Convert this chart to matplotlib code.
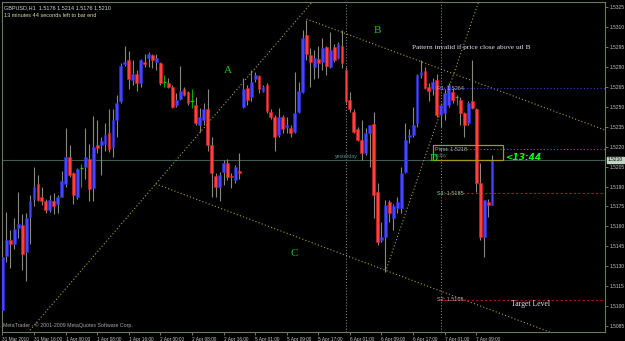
import matplotlib
matplotlib.use('Agg')
from matplotlib import pyplot as plt
from matplotlib.patches import Rectangle
from matplotlib.transforms import blended_transform_factory
import numpy as np

# GBPUSD H1 bars
opens = [1.5097, 1.5138, 1.5150, 1.5147, 1.5159, 1.5161, 1.5141, 1.5167, 1.5181, 1.5192,
         1.5182, 1.5179, 1.5172, 1.5179, 1.5177, 1.5182, 1.5192, 1.5212, 1.5200, 1.5182,
         1.5204, 1.5205, 1.5211, 1.5189, 1.5221, 1.5221, 1.5222, 1.5230, 1.5220, 1.5240,
         1.5254, 1.5282, 1.5285, 1.5270, 1.5275, 1.5268, 1.5284, 1.5287, 1.5289, 1.5284,
         1.5283, 1.5269, 1.5268, 1.5265, 1.5251, 1.5256, 1.5263, 1.5261, 1.5254, 1.5251,
         1.5236, 1.5240, 1.5248, 1.5221, 1.5198, 1.5190, 1.5201, 1.5208, 1.5198, 1.5195,
         1.5202, 1.5250, 1.5264, 1.5257, 1.5271, 1.5273, 1.5262, 1.5266, 1.5246, 1.5242,
         1.5229, 1.5242, 1.5235, 1.5234, 1.5231, 1.5246, 1.5261, 1.5304, 1.5289, 1.5280,
         1.5286, 1.5284, 1.5295, 1.5280, 1.5295, 1.5287, 1.5296, 1.5278, 1.5255, 1.5246,
         1.5233, 1.5225, 1.5215, 1.5230, 1.5237, 1.5186, 1.5150, 1.5152, 1.5178, 1.5166,
         1.5174, 1.5174, 1.5201, 1.5227, 1.5229, 1.5238, 1.5274, 1.5277, 1.5265, 1.5263,
         1.5270, 1.5244, 1.5245, 1.5251, 1.5261, 1.5257, 1.5255, 1.5245, 1.5238, 1.5254,
         1.5248, 1.5193, 1.5152, 1.5178, 1.5176]
highs = [1.5150, 1.5171, 1.5157, 1.5166, 1.5186, 1.5169, 1.5170, 1.5184, 1.5205, 1.5199,
         1.5190, 1.5181, 1.5184, 1.5185, 1.5184, 1.5202, 1.5234, 1.5221, 1.5201, 1.5204,
         1.5207, 1.5234, 1.5222, 1.5243, 1.5240, 1.5227, 1.5238, 1.5248, 1.5248, 1.5259,
         1.5283, 1.5296, 1.5292, 1.5285, 1.5278, 1.5286, 1.5290, 1.5291, 1.5290, 1.5290,
         1.5284, 1.5274, 1.5272, 1.5266, 1.5260, 1.5281, 1.5265, 1.5262, 1.5263, 1.5257,
         1.5249, 1.5253, 1.5263, 1.5227, 1.5200, 1.5201, 1.5210, 1.5211, 1.5200, 1.5206,
         1.5215, 1.5272, 1.5266, 1.5278, 1.5276, 1.5274, 1.5266, 1.5268, 1.5248, 1.5244,
         1.5249, 1.5244, 1.5242, 1.5236, 1.5276, 1.5269, 1.5308, 1.5315, 1.5294, 1.5293,
         1.5296, 1.5302, 1.5296, 1.5306, 1.5297, 1.5299, 1.5308, 1.5280, 1.5261, 1.5248,
         1.5235, 1.5240, 1.5234, 1.5236, 1.5246, 1.5193, 1.5163, 1.5180, 1.5180, 1.5177,
         1.5182, 1.5205, 1.5238, 1.5233, 1.5250, 1.5275, 1.5285, 1.5280, 1.5268, 1.5272,
         1.5275, 1.5253, 1.5263, 1.5268, 1.5264, 1.5259, 1.5257, 1.5246, 1.5254, 1.5285,
         1.5249, 1.5208, 1.5180, 1.5181, 1.5214]
lows = [1.5096, 1.5133, 1.5129, 1.5143, 1.5151, 1.5127, 1.5119, 1.5147, 1.5175, 1.5179,
        1.5176, 1.5170, 1.5171, 1.5169, 1.5170, 1.5182, 1.5190, 1.5197, 1.5177, 1.5181,
        1.5190, 1.5196, 1.5179, 1.5179, 1.5215, 1.5199, 1.5217, 1.5216, 1.5212, 1.5227,
        1.5253, 1.5281, 1.5263, 1.5266, 1.5262, 1.5265, 1.5280, 1.5280, 1.5279, 1.5278,
        1.5266, 1.5265, 1.5264, 1.5249, 1.5250, 1.5255, 1.5258, 1.5251, 1.5249, 1.5236,
        1.5231, 1.5236, 1.5217, 1.5182, 1.5182, 1.5179, 1.5191, 1.5195, 1.5189, 1.5193,
        1.5196, 1.5249, 1.5251, 1.5254, 1.5269, 1.5260, 1.5261, 1.5245, 1.5241, 1.5217,
        1.5227, 1.5230, 1.5230, 1.5227, 1.5230, 1.5245, 1.5260, 1.5285, 1.5265, 1.5271,
        1.5272, 1.5278, 1.5274, 1.5279, 1.5284, 1.5286, 1.5279, 1.5253, 1.5246, 1.5230,
        1.5224, 1.5210, 1.5214, 1.5205, 1.5166, 1.5146, 1.5148, 1.5126, 1.5163, 1.5157,
        1.5170, 1.5170, 1.5200, 1.5223, 1.5227, 1.5235, 1.5272, 1.5263, 1.5254, 1.5259,
        1.5242, 1.5235, 1.5240, 1.5250, 1.5253, 1.5251, 1.5236, 1.5227, 1.5236, 1.5248,
        1.5186, 1.5150, 1.5137, 1.5167, 1.5176]
closes = [1.5137, 1.5150, 1.5147, 1.5158, 1.5162, 1.5139, 1.5166, 1.5179, 1.5190, 1.5180,
          1.5179, 1.5172, 1.5180, 1.5175, 1.5182, 1.5194, 1.5212, 1.5199, 1.5184, 1.5203,
          1.5204, 1.5212, 1.5188, 1.5220, 1.5219, 1.5224, 1.5229, 1.5218, 1.5240, 1.5253,
          1.5281, 1.5284, 1.5271, 1.5275, 1.5268, 1.5285, 1.5282, 1.5290, 1.5285, 1.5287,
          1.5268, 1.5269, 1.5265, 1.5250, 1.5255, 1.5262, 1.5259, 1.5253, 1.5254, 1.5238,
          1.5242, 1.5248, 1.5221, 1.5200, 1.5190, 1.5199, 1.5208, 1.5197, 1.5197, 1.5205,
          1.5200, 1.5263, 1.5255, 1.5269, 1.5274, 1.5263, 1.5265, 1.5247, 1.5242, 1.5227,
          1.5242, 1.5233, 1.5236, 1.5230, 1.5245, 1.5262, 1.5302, 1.5290, 1.5284, 1.5287,
          1.5283, 1.5294, 1.5281, 1.5293, 1.5285, 1.5297, 1.5283, 1.5254, 1.5248, 1.5231,
          1.5225, 1.5215, 1.5230, 1.5236, 1.5184, 1.5148, 1.5152, 1.5176, 1.5170, 1.5175,
          1.5178, 1.5200, 1.5225, 1.5229, 1.5236, 1.5274, 1.5276, 1.5264, 1.5262, 1.5269,
          1.5244, 1.5251, 1.5260, 1.5266, 1.5255, 1.5257, 1.5245, 1.5236, 1.5253, 1.5249,
          1.5193, 1.5152, 1.5180, 1.5176, 1.5210]

time_labels = ['31 Mar 2010', '31 Mar 16:00', '1 Apr 00:00', '1 Apr 08:00', '1 Apr 16:00',
               '2 Apr 00:00', '2 Apr 08:00', '2 Apr 16:00', '5 Apr 01:00', '5 Apr 09:00',
               '5 Apr 17:00', '6 Apr 01:00', '6 Apr 09:00', '6 Apr 17:00', '7 Apr 01:00',
               '7 Apr 09:00']
label_step = 8
day_separators = [87, 111]

# pivot levels for today
pivot_names = ['R1', 'Pivot', 'S1', 'S2']
pivot_values = [1.5264, 1.5218, 1.5185, 1.5105]
pivot_colors = ['#3838d8', '#b030b0', '#c01010', '#c01010']
today_start = 111

# trend lines: (bar, price) anchors
line_a = [(7.0, 1.5082), (78.5, 1.5329)]
line_b = [(77.0, 1.5316), (153.0, 1.5232)]
line_c = [(38.8, 1.5192), (140.0, 1.5079)]
line_d = [(97.0, 1.5126), (120.6, 1.5329)]

bid = 1.5210

small = ['Liberation Sans', 'DejaVu Sans']

fig = plt.figure(figsize=(6.25, 3.41), dpi=100, facecolor='black')
ax = fig.add_axes([2 / 625, 9 / 341, 603 / 625, 330 / 341], facecolor='black')
frame = '#6b7b5b'

x = np.arange(len(opens))
o = np.array(opens); h = np.array(highs); l = np.array(lows); c = np.array(closes)
bull = c > o
bear = c < o
doji = c == o

# wicks
ax.vlines(x[~doji], l[~doji], h[~doji], color='#8a8a7a', lw=0.8, zorder=3)
ax.vlines(x[doji], l[doji], h[doji], color='#00b000', lw=0.8, zorder=3)
# bodies
ax.bar(x[bull], (c - o)[bull], bottom=o[bull], width=0.72, color='#4646ff',
       edgecolor='#2a2ae0', lw=0.4, zorder=4)
ax.bar(x[bear], (o - c)[bear], bottom=c[bear], width=0.72, color='#ff4040',
       edgecolor='#e02020', lw=0.4, zorder=4)
ax.hlines(o[doji], x[doji] - 0.45, x[doji] + 0.45, color='#00d000', lw=0.9, zorder=4)

# bid line
ax.axhline(bid, color='#3f5a56', lw=0.8, zorder=2)

# day separators
for s in day_separators:
    ax.axvline(s, color='#9a9a9a', lw=0.7, ls=(0, (1, 2)), zorder=1)

# trend lines
for ln in [line_a, line_b, line_c, line_d]:
    ax.plot([ln[0][0], ln[1][0]], [ln[0][1], ln[1][1]], color='#b0a030',
            lw=0.8, ls=(0, (1, 2)), zorder=2)

# pivot lines and labels
for name, val, col in zip(pivot_names, pivot_values, pivot_colors):
    ls = (0, (1, 2)) if name in ('R1', 'Pivot') else (0, (2, 2))
    ax.hlines(val, today_start - 0.3, 160, color=col, lw=0.8, ls=ls, zorder=2)
    if name != 'Pivot':
        ax.text(today_start - 1, val, '%s: %.4f' % (name, val), color='#b0b0b0',
                fontsize=4.0, family=small, va='center', ha='left', zorder=6)
ax.add_patch(Rectangle((109, 1.5210), 17.7, 0.0011, fill=False, ec='#a89420',
                       lw=0.9, zorder=5))
ax.text(109.6, 1.52182, 'Pivot: 1.5218', color='#b0b0b0', fontsize=4.0, family=small,
        va='center', ha='left', zorder=6)
ax.text(109.6, 1.52135, 'today', color='#707070', fontsize=3.6, family=small,
        va='center', ha='left', zorder=6)
ax.text(108.2, 1.52112, 'D', color='#00ee00', fontsize=8, family='Liberation Serif',
        va='center', ha='left', zorder=7)
ax.text(127.4, 1.52115, '<13:44', color='#00ff00', fontsize=6.5, fontweight='bold',
        style='italic', va='center', ha='left', zorder=7)
ax.text(84.1, 1.52125, 'yesterday', color='#4f8f8f', fontsize=3.8, family=small,
        va='center', ha='left', zorder=6)

# pattern labels
for lbl, bx, py in [('A', 57.0, 1.52776), ('B', 95.0, 1.5307), ('C', 73.8, 1.51393)]:
    ax.text(bx, py, lbl, color='#22c022', fontsize=8, family='Liberation Serif',
            ha='center', va='center', zorder=6)
ax.text(103.6, 1.5295, 'Pattern invalid if price close above utl B', color='#e4e4f4',
        fontsize=5.2, family='Liberation Serif', va='center', ha='left', zorder=6)
ax.text(128.9, 1.51014, 'Target Level', color='#e4e4f4', fontsize=5.6,
        family='Liberation Serif', va='center', ha='left', zorder=6)

# header and footer text
ax.text(0.004, 0.99, 'GBPUSD,H1  1.5176 1.5214 1.5176 1.5210', color='#d4d4d4',
        fontsize=4.0, family=small, transform=ax.transAxes, va='top', ha='left')
ax.text(0.004, 0.968, '13 minutes 44 seconds left to bar end', color='#d8d8a8',
        fontsize=4.0, family=small, transform=ax.transAxes, va='top', ha='left')
ax.text(0.002, 0.012, 'MetaTrader - \u00a9 2001-2009 MetaQuotes Software Corp.',
        color='#a8a8a8', fontsize=3.8, family=small, transform=ax.transAxes,
        va='bottom', ha='left')

# axes
ax.set_xlim(-0.1, 152.6)
ax.set_ylim(1.50806, 1.53288)
ax.yaxis.tick_right()
yt = np.arange(1.5085, 1.53251, 0.0015)
ax.set_yticks(yt)
ax.set_yticklabels(['%.4f' % v for v in yt], family=small)
ax.tick_params(axis='y', colors=frame, labelcolor='#c8c8c8', labelsize=3.5,
               length=2.5, width=0.7, pad=1)
ax.set_xticks(np.arange(len(time_labels)) * label_step)
ax.set_xticklabels(time_labels, ha='left', family=small)
ax.tick_params(axis='x', colors=frame, labelcolor='#c8c8c8', labelsize=3.4,
               length=2.5, width=0.7, pad=1)
for sp in ax.spines.values():
    sp.set_color(frame)
    sp.set_linewidth(0.8)

tr = blended_transform_factory(ax.transAxes, ax.transData)
ax.text(1.005, bid, '%.4f' % bid, transform=tr, color='black', fontsize=3.5,
        family=small, va='center', ha='left', clip_on=False,
        bbox=dict(boxstyle='square,pad=0.12', fc='#c4d4c4', ec='#c4d4c4'))

fig.savefig('out.png', dpi=100, facecolor='black')
